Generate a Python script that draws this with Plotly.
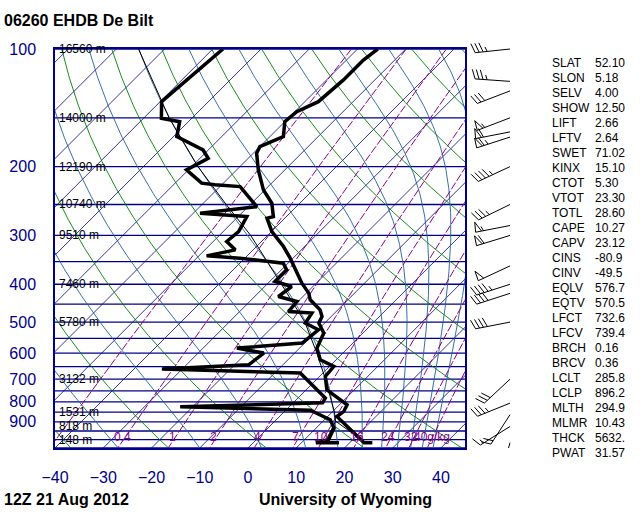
import numpy as np
import plotly.graph_objects as go

# sounding 06260 De Bilt, 12Z 21 Aug 2012 (hPa, deg C)
temp_p = [100, 106.7, 120, 136.4, 144.7, 153.5, 167.6, 177.8, 184.9, 203.9, 229.4, 248.1,
          268.5, 271.0, 293.3, 320.3, 343, 367.5, 397.4, 421.5, 438.5, 465, 483.8, 502.9,
          533.4, 582.8, 624.3, 649.3, 688.7, 745.1, 813.9, 846.6, 871.9, 1018, 1018]
temp_c = [-55.8, -56.5, -56.5, -57.2, -59.6, -60.0, -57.2, -60.0, -59.3, -55.5, -50.3, -45.8,
          -42.7, -43.7, -39.9, -34.4, -30.6, -27.1, -23.0, -19.5, -17.8, -13.7, -11.9, -11.2,
          -8.1, -6.4, -3.3, 0.9, 1.2, 4.3, 11.6, 12.3, 11.9, 23.0, 24.7]

dwpt_p = [100, 136.4, 150.4, 153.5, 167.6, 181.3, 190.4, 203.9, 220.5, 222.7, 225.0, 253.2,
          263.2, 268.5, 293.3, 311.0, 326.6, 338.4, 343.0, 353.3, 367.5, 393.7, 405.5, 430.0,
          443.0, 469.8, 474.2, 502.9, 523.2, 565.8, 582.8, 600.1, 642.9, 659.4, 675.0, 759.8,
          782.5, 804.3, 823.5, 840.7, 863.3, 888.9, 933.5, 1000, 1018, 1018]
dwpt_c = [-87.9, -89.7, -86.3, -81.8, -79.3, -71.1, -68.3, -70.4, -64.5, -61.4, -55.8, -48.2,
          -58.6, -48.2, -46.8, -47.2, -43.7, -48.4, -41.0, -31.0, -28.9, -28.9, -24.4, -25.1,
          -20.2, -19.9, -14.7, -14.0, -9.9, -10.5, -23.0, -16.4, -17.1, -34.2, -4.7, 3.6,
          5.7, 6.1, -22.6, 5.1, 8.1, 11.2, 13.7, 15.0, 13.0, 17.8]

parcel_p = [1018, 896.2, 850, 800, 700, 600, 500, 400, 300, 250, 200, 150, 100]
parcel_c = [23.3, 12.6, 10.5, 7.8, 1.8, -5.4, -14.3, -27.0, -43.5, -55.0, -68.7, -84.8, -105.4]
lcl_mix_p = [1018, 896.2]
lcl_mix_c = [14.8, 12.65]

wind_p = [100, 121, 128, 150, 163, 168, 200, 250, 283, 300, 359, 400, 422, 500, 700, 806, 863, 925, 1018]
wind_dir = [264, 274, 249, 249, 259, 252, 245, 244, 259, 253, 245, 252, 252, 259, 227, 248, 213, 238, 196]
wind_kt = [35, 35, 30, 55, 60, 65, 45, 35, 55, 60, 50, 45, 40, 40, 30, 35, 20, 15, 2]

height_p = [100, 150, 200, 250, 300, 400, 500, 700, 850, 925, 1000]
height_m = ["16560", "14000", "12190", "10740", "9510", "7460", "5780", "3132", "1531", "818", "148"]

index_names = ["SLAT", "SLON", "SELV", "SHOW", "LIFT", "LFTV", "SWET", "KINX", "CTOT", "VTOT",
               "TOTL", "CAPE", "CAPV", "CINS", "CINV", "EQLV", "EQTV", "LFCT", "LFCV", "BRCH",
               "BRCV", "LCLT", "LCLP", "MLTH", "MLMR", "THCK", "PWAT"]
index_vals = ["52.10", "5.18", "4.00", "12.50", "2.66", "2.64", "71.02", "15.10", "5.30", "23.30",
              "28.60", "10.27", "23.12", "-80.9", "-49.5", "576.7", "570.5", "732.6", "739.4", "0.16",
              "0.36", "285.8", "896.2", "294.9", "10.43", "5632.", "31.57"]

# background lines of the diagram
isobars = list(range(100, 1051, 50))
isotherms = list(range(-130, 41, 10))
dry_theta = [233.15 + 20 * k for k in range(12)]
moist_theta = [244 + 20 * k for k in range(11)]
mix_ratio = [0.1, 0.4, 1, 2, 4, 7, 10, 16, 24, 32, 40]
mix_labels = ["", "0.4", "1", "2", "4", "7", "10", "16", "24", "32", "40g/kg"]

NAVY = "#00008B"
FONT = "Liberation Sans, Arial, sans-serif"
K = 81.0          # skew: deg C of x shift per decade of pressure
PPD = 390.7       # pixels per pressure decade
P_BOT = 1050

def skew(t, p):
    return np.asarray(t, float) + K * np.log10(P_BOT / np.asarray(p, float))

def td_mix(w, p):
    e = w * p / (622.0 + w)
    ln = np.log(e / 6.112)
    return 243.5 * ln / (17.67 - ln)

def dtdp(p, t):
    tc = t - 273.15
    es = 6.112 * np.exp(17.67 * tc / (tc + 243.5))
    rs = 0.622 * es / (p - es)
    return (287.04 * t + 2.501e6 * rs) / (p * (1005.7 + 2.501e6 ** 2 * rs * 0.622 / (287.04 * t * t)))

pp = np.geomspace(100, P_BOT, 150)

fig = go.Figure()

def add_lines(xs, ys, color, width, dash=None):
    fig.add_trace(go.Scatter(x=xs, y=ys, mode="lines", hoverinfo="skip",
                             line=dict(color=color, width=width, dash=dash)))

# isobars
xs, ys = [], []
for p in isobars:
    xs += [-40, 45, None]
    ys += [p, p, None]
add_lines(xs, ys, NAVY, 1.3)

# isotherms
xs, ys = [], []
for t in isotherms:
    xs += list(skew([t, t], [P_BOT, 100])) + [None]
    ys += [P_BOT, 100, None]
add_lines(xs, ys, NAVY, 0.8)

# dry adiabats
xs, ys = [], []
for th in dry_theta:
    tt = th * (pp / 1000.0) ** 0.2857 - 273.15
    xs += list(skew(tt, pp)) + [None]
    ys += list(pp) + [None]
add_lines(xs, ys, "#008000", 0.9)

# saturated adiabats, integrated down from 100 hPa
xs, ys = [], []
for th in moist_theta:
    t = th * 0.1 ** 0.2857
    tl = [t]
    for i in range(1, len(pp)):
        dp = pp[i] - pp[i - 1]
        k1 = dtdp(pp[i - 1], t)
        k2 = dtdp(pp[i - 1] + dp / 2, t + k1 * dp / 2)
        t = t + k2 * dp
        tl.append(t)
    xs += list(skew(np.array(tl) - 273.15, pp)) + [None]
    ys += list(pp) + [None]
add_lines(xs, ys, "#1F5F9F", 0.9)

# mixing ratio lines
xs, ys = [], []
for w in mix_ratio:
    xs += list(skew(td_mix(w, pp), pp)) + [None]
    ys += list(pp) + [None]
add_lines(xs, ys, "#8B008B", 1, dash="8px,2px")

# profiles
add_lines(list(skew(parcel_c, parcel_p)), parcel_p, "black", 1)
add_lines(list(skew(lcl_mix_c, lcl_mix_p)), lcl_mix_p, "black", 1)
add_lines(list(skew(dwpt_c, dwpt_p)), dwpt_p, "black", 3.5)
add_lines(list(skew(temp_c, temp_p)), temp_p, "black", 3.5)

# wind barbs on their own small axes (x in px, y in log10 hPa)
bx, by = [], []
for p, d, kt in zip(wind_p, wind_dir, wind_kt):
    r = np.radians(d)
    ux, uy = np.sin(r), np.cos(r)
    qx, qy = uy, -ux
    segs = []
    L = 35
    segs.append([(0, 0), (L * ux, L * uy)])
    n = int(round(kt / 5.0)) * 5
    n50, n = divmod(n, 50)
    n10, n = divmod(n, 10)
    n5 = n // 5
    s = L
    for _ in range(n50):
        segs.append([(s * ux, s * uy),
                     ((s - 1) * ux + 10 * qx, (s - 1) * uy + 10 * qy),
                     ((s - 6) * ux, (s - 6) * uy)])
        s -= 8
    fx, fy = 0.94 * qx + 0.34 * ux, 0.94 * qy + 0.34 * uy
    for _ in range(n10):
        segs.append([(s * ux, s * uy), (s * ux + 10 * fx, s * uy + 10 * fy)])
        s -= 4
    if n5:
        if s == L:
            s -= 4
        segs.append([(s * ux, s * uy), (s * ux + 5 * fx, s * uy + 5 * fy)])
    for seg in segs:
        for ax_, ay_ in seg:
            bx.append(45 + ax_)
            by.append(np.log10(p) - ay_ / PPD)
        bx.append(None)
        by.append(None)
fig.add_trace(go.Scatter(x=bx, y=by, mode="lines", xaxis="x2", yaxis="y2", hoverinfo="skip",
                         line=dict(color="black", width=1)))

W, H = 640, 512
L_M, T_M, B_M = 55, 39, 64
PW, PH = W - L_M, H - T_M - B_M

def paper(xp, yp):
    return (xp - L_M) / PW, (448 - yp) / PH

ann = []
for p, h in zip(height_p, height_m):
    ann.append(dict(x=1.5 / PW, xref="paper", y=np.log10(p), yref="y", text=h + " m",
                    xanchor="left", yanchor="middle", showarrow=False,
                    font=dict(family=FONT, size=12, color="black")))
for w, lab in zip(mix_ratio, mix_labels):
    if not lab:
        continue
    xv = float(skew(td_mix(w, 985), 985))
    last = lab.endswith("g/kg")
    ann.append(dict(x=xv, xref="x", y=np.log10(985), yref="y", text=lab,
                    xanchor="left" if last else "center", xshift=-20 if last else -3,
                    yanchor="middle", showarrow=False,
                    font=dict(family=FONT, size=12, color="#8B008B")))
for i, (nm, v) in enumerate(zip(index_names, index_vals)):
    yv = 62.7 + 15.0 * i
    x1, y1 = paper(550, yv)
    x2, _ = paper(593, yv)
    ann.append(dict(x=x1, y=y1, xref="paper", yref="paper", text=nm, xanchor="left",
                    yanchor="middle", showarrow=False, font=dict(family=FONT, size=12, color="black")))
    ann.append(dict(x=x2, y=y1, xref="paper", yref="paper", text=v, xanchor="left",
                    yanchor="middle", showarrow=False, font=dict(family=FONT, size=12, color="black")))
for txt, xp, yp in [("06260 EHDB De Bilt", 2, 20), ("12Z 21 Aug 2012", 2, 499),
                    ("University of Wyoming", 257, 499)]:
    xx, yy = paper(xp, yp)
    ann.append(dict(x=xx, y=yy, xref="paper", yref="paper", text="<b>" + txt + "</b>",
                    xanchor="left", yanchor="middle", showarrow=False,
                    font=dict(family=FONT, size=16, color="black")))

fig.update_layout(
    width=W, height=H,
    margin=dict(l=L_M, r=0, t=T_M, b=B_M),
    paper_bgcolor="white", plot_bgcolor="white",
    showlegend=False,
    annotations=ann,
    xaxis=dict(domain=[0, 410 / PW], range=[-40, 45], tickvals=list(range(-40, 41, 10)),
               ticks="", showgrid=False, zeroline=False, showline=True, mirror=True,
               linecolor=NAVY, linewidth=1.5, ticklabelstandoff=14,
               tickfont=dict(family=FONT, size=16, color=NAVY)),
    yaxis=dict(type="log", domain=[0, 399 / PH], range=[np.log10(P_BOT), 2],
               tickvals=list(range(100, 901, 100)), ticks="", showgrid=False, zeroline=False,
               showline=True, mirror=True, linecolor=NAVY, linewidth=1.5, ticklabelstandoff=14,
               tickfont=dict(family=FONT, size=16, color=NAVY)),
    xaxis2=dict(domain=[410 / PW, 465 / PW], range=[0, 55], visible=False, anchor="y2"),
    yaxis2=dict(domain=[0, 1], range=[np.log10(P_BOT), np.log10(P_BOT) - PH / PPD],
                visible=False, anchor="x2"),
)

# page body has a default 8px margin; drop it so the chart sits at the top-left corner
fig.write_html("out.html", config={"displayModeBar": False},
               post_script="document.body.style.margin='0';")
